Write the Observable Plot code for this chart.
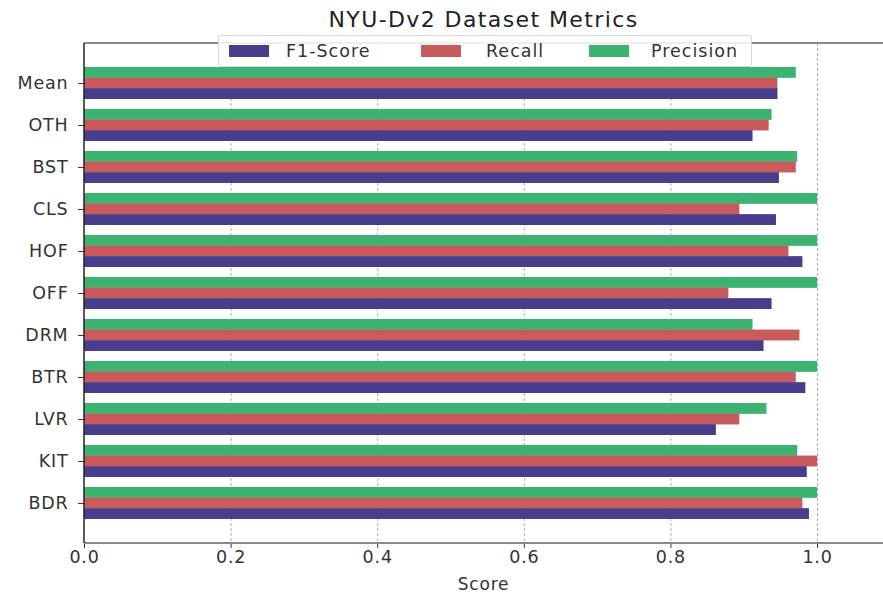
<!DOCTYPE html>
<html>
<head>
<meta charset="utf-8">
<script src="https://cdn.jsdelivr.net/npm/d3@7"></script>
<script src="https://cdn.jsdelivr.net/npm/@observablehq/plot@0.6"></script>
<style>
  body { margin: 0; background: #fff; font-family: "DejaVu Sans", sans-serif; }
  #wrap { position: relative; width: 883px; height: 595px; overflow: hidden; }
  #title { position: absolute; left: 84px; right: 0; top: 7px; text-align: center; font-size: 22px; color: #222; letter-spacing: 1.4px; }
  #xlabel { position: absolute; left: 84px; right: 0; top: 574px; text-align: center; font-size: 17px; color: #333; letter-spacing: 0.8px; }
  #legend { position: absolute; left: 218px; top: 35px; width: 534px; height: 32px; box-sizing: border-box;
            background: rgba(255,255,255,0.85); border: 1px solid #d8d8d8; border-radius: 3px; z-index: 2; }
  .sw { position: absolute; top: 9px; width: 40px; height: 12px; }
  .lt { position: absolute; top: 5px; font-size: 17.5px; color: #333; letter-spacing: 1px; white-space: nowrap; }
  #chart { position: absolute; left: 0; top: 0; }
</style>
</head>
<body>
<div id="wrap">
  <div id="chart"></div>
  <div id="title">NYU-Dv2 Dataset Metrics</div>
  <div id="xlabel">Score</div>
  <div id="legend"></div>
</div>
<script>
const categories = ["Mean","OTH","BST","CLS","HOF","OFF","DRM","BTR","LVR","KIT","BDR"];
const f1Score   = [0.946,0.912,0.948,0.944,0.980,0.938,0.927,0.984,0.862,0.986,0.989];
const recall    = [0.946,0.934,0.971,0.894,0.961,0.879,0.976,0.971,0.894,1.000,0.980];
const precision = [0.971,0.938,0.973,1.000,1.000,1.000,0.912,1.000,0.931,0.973,1.000];
const metrics = ["F1-Score","Recall","Precision"];
const colors = ["#483d8b","#c95b5e","#3cb371"];
const xTicks = [0.0,0.2,0.4,0.6,0.8,1.0];

const rows = categories.map((c, i) => ({cat: c, f1: f1Score[i], recall: recall[i], precision: precision[i]}));

const W = 883, H = 595, mT = 43, mB = 52, mL = 84, mR = 0;
const padIn = 0.25, padOut = 0.5375;
const step = (H - mT - mB) / (categories.length - padIn + 2 * padOut);
const third = step * (1 - padIn) / 3;

const spines = (index, scales, values, dims) => {
  const g = d3.create("svg:g");
  const right = dims.width, left = dims.marginLeft;
  const top = dims.marginTop, bottom = dims.height - dims.marginBottom;
  g.append("line").attr("x1", left).attr("x2", right).attr("y1", top).attr("y2", top)
    .attr("stroke", "#8a8a8a").attr("stroke-width", 2.2);
  g.append("line").attr("x1", left).attr("x2", right).attr("y1", bottom).attr("y2", bottom)
    .attr("stroke", "#8a8a8a").attr("stroke-width", 2.2);
  g.append("line").attr("x1", left).attr("x2", left).attr("y1", top).attr("y2", bottom)
    .attr("stroke", "#222").attr("stroke-width", 1.5);
  return g.node();
};

const plot = Plot.plot({
  width: W, height: H,
  marginTop: mT, marginBottom: mB, marginLeft: mL, marginRight: mR,
  style: { fontFamily: "DejaVu Sans", fontSize: "17.5px", color: "#333", background: "#fff", letterSpacing: "0.8px" },
  x: { domain: [0, 1.09], ticks: xTicks, tickFormat: ".1f", label: null, tickSize: 5, tickPadding: 2 },
  y: { domain: categories, label: null, paddingInner: padIn, paddingOuter: padOut, tickSize: 6, tickPadding: 10 },
  marks: [
    Plot.ruleX(xTicks.slice(1), { stroke: "#b0b0b0", strokeWidth: 1, strokeDasharray: "3,2" }),
    Plot.barX(rows, { y: "cat", x1: 0, x2: "precision", fill: colors[2], insetBottom: 2 * third }),
    Plot.barX(rows, { y: "cat", x1: 0, x2: "recall", fill: colors[1], insetTop: third, insetBottom: third }),
    Plot.barX(rows, { y: "cat", x1: 0, x2: "f1", fill: colors[0], insetTop: 2 * third }),
    spines
  ]
});
document.getElementById("chart").appendChild(plot);

const legend = document.getElementById("legend");
const swLeft = [10, 202, 370];
const txtLeft = [67, 267, 432];
metrics.forEach((m, i) => {
  const sw = document.createElement("div");
  sw.className = "sw";
  sw.style.left = swLeft[i] + "px";
  sw.style.background = colors[i];
  legend.appendChild(sw);
  const t = document.createElement("span");
  t.className = "lt";
  t.style.left = txtLeft[i] + "px";
  t.textContent = m;
  legend.appendChild(t);
});
</script>
</body>
</html>
